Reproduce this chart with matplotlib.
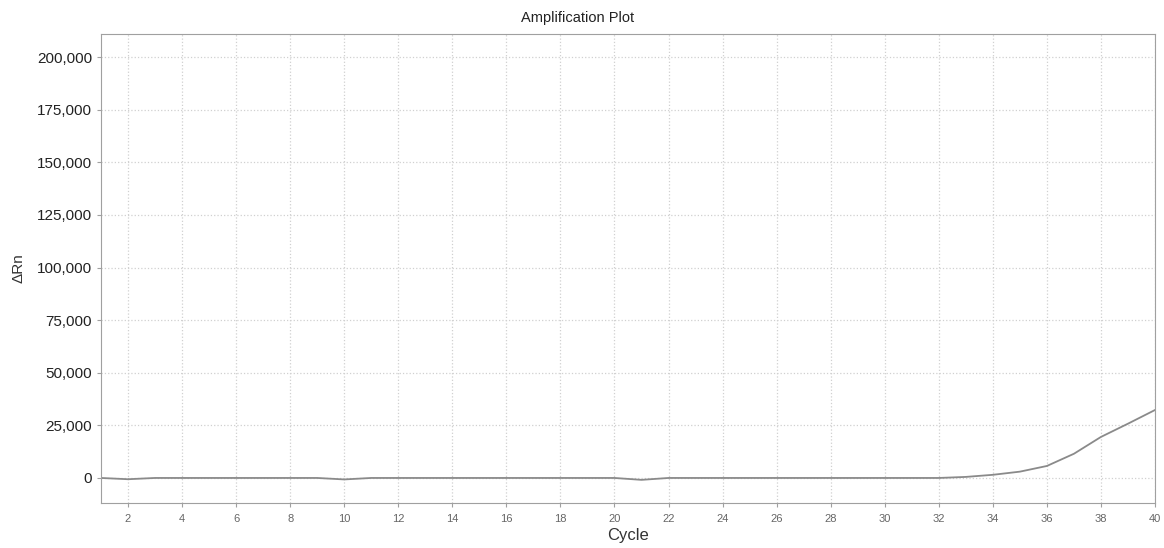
import numpy as np
import matplotlib
matplotlib.use('Agg')
import matplotlib.pyplot as plt
from matplotlib.ticker import FuncFormatter

plt.rcParams['font.family'] = ['Liberation Sans', 'DejaVu Sans']

# DATA #
cycles = list(range(1, 41))
delta_rn = [0, -600, 0, 0, 0, 0, 0, 0, 0, -700,
            0, 0, 0, 0, 0, 0, 0, 0, 0, 0,
            -900, 0, 0, 0, 0, 0, 0, 0, 0, 0,
            0, 0, 500, 1500, 3000, 5700, 11500, 19500, 25800, 32300]
y_ticks = [0, 25000, 50000, 75000, 100000, 125000, 150000, 175000, 200000]
x_ticks = list(range(2, 41, 2))

fig = plt.figure(figsize=(11.64, 5.48), dpi=100)
ax = fig.add_axes([101 / 1164, 1 - 503 / 548, (1155 - 101) / 1164, (503 - 34) / 548])

ax.plot(cycles, delta_rn, color='#8a8a8a', linewidth=1.3)

ax.set_xlim(1, 40)
ax.set_ylim(-11900, 211000)
ax.set_xticks(x_ticks)
ax.set_yticks(y_ticks)
ax.yaxis.set_major_formatter(FuncFormatter(lambda v, p: f'{int(v):,}'))
ax.grid(True, color='#d0d0d0', linestyle=':', linewidth=0.9)
ax.set_axisbelow(True)

for s in ax.spines.values():
    s.set_color('#a0a0a0')
ax.tick_params(axis='x', labelsize=8, colors='#a0a0a0', labelcolor='#666666', length=3, pad=5)
ax.tick_params(axis='y', labelsize=11, colors='#a0a0a0', labelcolor='#222222', length=3)

ax.set_xlabel('Cycle', fontsize=12, color='#333333', labelpad=3)
ax.set_ylabel('ΔRn', fontsize=11, color='#333333', labelpad=8)
fig.text(578 / 1164, 1 - 18 / 548, 'Amplification Plot', fontsize=10.5,
         color='#222222', ha='center', va='center')

plt.savefig('out.png', dpi=100)
